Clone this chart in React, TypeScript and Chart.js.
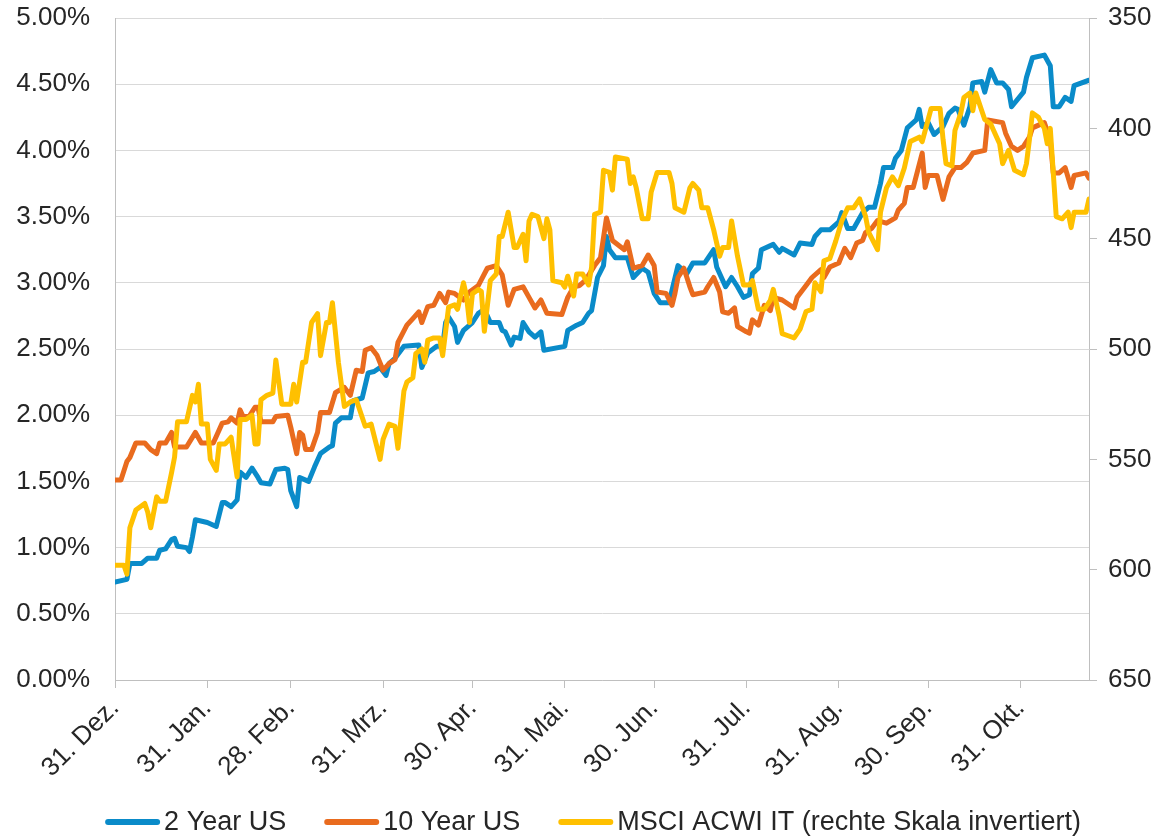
import { useEffect, useRef } from 'react';
import { Chart, registerables } from 'chart.js';

Chart.register(...registerables);

// X axis: days since 31 Dec; ticks at month ends
const tickDays = [0, 31, 59, 90, 120, 151, 181, 212, 243, 273, 304];
const tickLabels = ['31. Dez.', '31. Jan.', '28. Feb.', '31. Mrz.', '30. Apr.', '31. Mai.', '30. Jun.', '31. Jul.', '31. Aug.', '30. Sep.', '31. Okt.'];
const lastDay = 327;

// 2 Year US yield (%)
const days2y = [0,4,5,9,11,14,15,17,19,20,21,24,25,26,27,31,34,36,37,39,41,42,44,46,48,49,52,54,57,58,59,61,62,65,67,69,72,73,74,76,79,80,83,85,87,89,91,92,94,97,102,103,105,108,110,111,112,114,115,117,120,122,124,126,129,130,131,133,134,136,137,139,141,143,144,151,152,155,157,159,160,162,164,165,166,168,172,174,177,179,181,183,186,189,192,194,198,201,202,205,207,209,211,213,214,216,217,221,223,224,228,230,234,235,237,240,243,244,246,248,251,253,255,257,258,261,262,264,266,269,270,271,273,275,278,280,282,283,285,287,288,291,292,294,296,298,300,301,305,306,308,312,314,315,317,319,321,322,327];
const yield2y = [0.74,0.76,0.88,0.88,0.92,0.92,0.98,0.99,1.06,1.07,1.01,1.00,0.97,1.08,1.21,1.19,1.16,1.34,1.34,1.31,1.36,1.57,1.53,1.60,1.53,1.49,1.48,1.59,1.60,1.59,1.43,1.31,1.53,1.50,1.61,1.71,1.76,1.77,1.94,1.98,1.98,2.11,2.13,2.32,2.33,2.36,2.30,2.39,2.43,2.52,2.53,2.36,2.47,2.52,2.52,2.70,2.74,2.67,2.55,2.64,2.70,2.77,2.80,2.70,2.70,2.64,2.63,2.53,2.59,2.58,2.70,2.63,2.59,2.63,2.49,2.52,2.64,2.68,2.70,2.77,2.79,3.04,3.13,3.35,3.25,3.19,3.19,3.04,3.11,3.08,2.92,2.85,2.85,3.13,3.07,3.15,3.15,3.25,3.12,2.97,3.04,2.97,2.89,2.91,3.07,3.11,3.25,3.29,3.23,3.26,3.21,3.30,3.29,3.35,3.40,3.40,3.46,3.53,3.41,3.41,3.53,3.57,3.57,3.75,3.87,3.87,3.94,4.00,4.17,4.23,4.31,4.18,4.21,4.12,4.18,4.28,4.32,4.31,4.19,4.33,4.51,4.52,4.44,4.61,4.51,4.51,4.46,4.33,4.44,4.55,4.70,4.72,4.64,4.33,4.33,4.40,4.37,4.49,4.53];

// 10 Year US yield (%)
const days10y = [0,2,4,5,7,10,12,14,15,17,19,20,24,27,29,33,36,38,39,41,42,43,45,47,48,49,53,54,58,59,61,62,63,64,66,68,69,72,74,77,79,81,83,84,86,88,90,92,94,95,98,100,102,103,105,107,109,111,112,114,117,119,122,125,128,130,132,134,137,139,141,143,145,150,152,154,156,158,161,163,165,167,171,172,174,177,179,181,182,185,187,188,189,191,193,194,198,199,201,203,204,206,208,209,212,213,214,216,218,220,221,224,228,229,232,234,237,238,240,243,245,247,249,251,252,254,256,259,262,263,265,266,268,271,272,273,276,278,280,282,284,286,288,292,293,298,299,301,303,305,307,308,312,314,315,317,319,321,322,326,327];
const yield10y = [1.51,1.51,1.65,1.68,1.79,1.79,1.74,1.71,1.79,1.79,1.87,1.76,1.76,1.87,1.79,1.79,1.94,1.95,1.98,1.94,2.04,1.99,1.99,2.06,2.06,1.95,1.95,1.99,2.00,1.91,1.71,1.87,1.85,1.74,1.74,1.87,2.02,2.02,2.17,2.21,2.15,2.34,2.33,2.49,2.51,2.45,2.34,2.39,2.42,2.55,2.68,2.73,2.78,2.70,2.82,2.83,2.92,2.85,2.93,2.92,2.87,2.93,2.98,3.11,3.13,3.06,2.83,2.95,2.97,2.89,2.81,2.87,2.77,2.76,2.89,2.97,2.98,3.02,3.13,3.19,3.49,3.32,3.25,3.31,3.11,3.13,3.21,3.13,2.93,2.92,2.83,2.92,3.04,3.11,2.97,2.91,2.93,2.97,3.04,2.93,2.78,2.77,2.81,2.67,2.63,2.62,2.72,2.68,2.83,2.79,2.89,2.87,2.81,2.89,2.98,3.04,3.10,3.04,3.12,3.15,3.26,3.19,3.30,3.32,3.38,3.41,3.47,3.45,3.49,3.55,3.60,3.72,3.72,3.98,3.72,3.81,3.81,3.63,3.80,3.87,3.87,3.91,3.98,4.00,4.23,4.21,4.13,4.03,4.00,4.03,4.10,4.17,4.21,4.08,3.83,3.83,3.87,3.72,3.81,3.83,3.79];

// MSCI ACWI IT index (right axis, inverted)
const daysMsci = [0,3,4,5,7,10,11,12,14,15,17,19,20,21,24,26,27,28,29,31,32,34,35,37,39,41,42,44,46,47,48,49,51,53,54,56,59,60,61,63,64,66,68,69,71,72,73,75,77,79,81,84,86,89,90,92,94,95,97,98,100,101,103,104,105,107,109,110,112,114,115,117,118,119,120,122,123,124,126,128,129,130,132,134,135,137,138,139,140,142,144,145,146,147,150,151,152,154,155,157,159,160,161,163,164,166,167,168,172,173,174,175,177,179,180,182,186,187,188,191,193,194,196,197,199,201,203,204,206,207,209,211,213,214,216,218,220,221,223,224,226,228,230,232,234,235,237,238,240,242,244,246,248,250,252,253,256,257,259,261,263,265,267,270,271,273,274,277,278,279,281,282,284,285,287,288,289,291,292,294,296,297,298,300,302,305,306,307,308,310,312,313,314,315,316,318,320,321,322,326,327];
const msciIt = [598,598,602,581,573,570,574,581,567,569,569,556,549,533,533,521,524,516,534,534,550,555,543,543,540,558,532,532,530,543,543,523,521,520,505,525,525,516,524,506,506,488,484,503,488,488,479,506,526,524,523,535,534,550,541,534,535,545,519,515,513,502,500,506,496,495,495,503,481,480,482,470,476,488,475,473,474,492,469,466,449,449,438,454,454,448,460,442,439,440,450,441,446,469,470,472,467,476,466,466,471,463,439,438,419,420,428,413,414,425,422,427,441,441,429,420,420,425,436,438,427,425,428,436,436,446,458,454,454,442,458,471,471,469,482,482,478,473,485,493,494,495,491,483,482,470,474,460,459,451,442,436,436,432,440,447,455,438,427,422,426,418,406,404,406,396,391,391,405,416,417,401,393,386,384,392,384,392,396,398,404,407,416,410,419,421,416,405,393,395,400,407,400,420,440,441,438,445,438,438,432];

const BLUE = '#0A8BC9';
const ORANGE = '#E96B1E';
const YELLOW = '#FFC000';
const GRID = '#D9D9D9';
const AXIS = '#BFBFBF';
const TEXT = '#262626';
const FONT_FAMILY = '"Liberation Sans", Arial, sans-serif';
const FONT_SIZE = 26;
const LEGEND_FONT_SIZE = 27;

const legendPlugin = {
  id: 'customLegend',
  afterDraw(chart: any) {
    const ctx = chart.ctx as CanvasRenderingContext2D;
    ctx.save();
    ctx.font = `${LEGEND_FONT_SIZE}px ${FONT_FAMILY}`;
    const items = chart.data.datasets.map((ds: any) => ({ label: ds.label, color: ds.borderColor }));
    const lineW = 55;
    const gapText = 4;
    const gapItem = 38;
    const widths = items.map((it: any) => lineW + gapText + ctx.measureText(it.label).width);
    const total = widths.reduce((a: number, b: number) => a + b, 0) + gapItem * (items.length - 1);
    let x = chart.width / 2 + 13 - total / 2;
    const y = 822;
    items.forEach((it: any, i: number) => {
      ctx.beginPath();
      ctx.strokeStyle = it.color;
      ctx.lineWidth = 6;
      ctx.lineCap = 'round';
      ctx.moveTo(x + 3, y);
      ctx.lineTo(x + lineW - 3, y);
      ctx.stroke();
      ctx.fillStyle = TEXT;
      ctx.textAlign = 'left';
      ctx.textBaseline = 'middle';
      ctx.fillText(it.label, x + lineW + gapText, y + 1);
      x += widths[i] + gapItem;
    });
    ctx.restore();
  },
};

export default function App() {
  const ref = useRef<HTMLCanvasElement>(null);

  useEffect(() => {
    document.body.style.margin = '0';
    const zip = (d: number[], v: number[]) => d.map((x, i) => ({ x, y: v[i] }));
    const font = { family: FONT_FAMILY, size: FONT_SIZE };
    const chart = new Chart(ref.current as HTMLCanvasElement, {
      type: 'line',
      data: {
        datasets: [
          { label: '2 Year US', data: zip(days2y, yield2y), borderColor: BLUE, backgroundColor: BLUE, yAxisID: 'y', order: 3 },
          { label: '10 Year US', data: zip(days10y, yield10y), borderColor: ORANGE, backgroundColor: ORANGE, yAxisID: 'y', order: 2 },
          { label: 'MSCI ACWI IT (rechte Skala invertiert)', data: zip(daysMsci, msciIt), borderColor: YELLOW, backgroundColor: YELLOW, yAxisID: 'y2', order: 1 },
        ],
      },
      options: {
        animation: false,
        responsive: false,
        maintainAspectRatio: false,
        elements: {
          point: { radius: 0, hoverRadius: 0 },
          line: { borderWidth: 5, tension: 0, borderJoinStyle: 'round', borderCapStyle: 'round' },
        },
        layout: { padding: { top: 18, bottom: 50, left: 0, right: 0 } },
        plugins: { legend: { display: false }, tooltip: { enabled: false } },
        scales: {
          x: {
            type: 'linear',
            min: 0,
            max: lastDay,
            afterBuildTicks: (s: any) => {
              s.ticks = tickDays.map((v) => ({ value: v }));
            },
            afterFit: (s: any) => {
              s.height = 106;
              s.paddingLeft = 0;
              s.paddingRight = 0;
            },
            ticks: {
              autoSkip: false,
              maxRotation: 45,
              minRotation: 45,
              padding: 5,
              color: TEXT,
              font,
              callback: (v: any) => {
                const i = tickDays.indexOf(Number(v));
                return i >= 0 ? tickLabels[i] : '';
              },
            },
            grid: { drawOnChartArea: false, drawTicks: true, tickLength: 8, color: AXIS },
            border: { color: AXIS },
          },
          y: {
            position: 'left',
            min: 0,
            max: 5,
            afterFit: (s: any) => {
              s.width = 115;
              s.paddingTop = 0;
              s.paddingBottom = 0;
            },
            ticks: {
              stepSize: 0.5,
              padding: 25,
              color: TEXT,
              font,
              callback: (v: any) => Number(v).toFixed(2) + '%',
            },
            grid: { color: GRID, drawTicks: false },
            border: { color: AXIS },
          },
          y2: {
            position: 'right',
            min: 350,
            max: 650,
            reverse: true,
            afterFit: (s: any) => {
              s.width = 71;
              s.paddingTop = 0;
              s.paddingBottom = 0;
            },
            ticks: { stepSize: 50, padding: 11, color: TEXT, font },
            grid: { drawOnChartArea: false, drawTicks: true, tickLength: 8, color: AXIS },
            border: { color: AXIS },
          },
        },
      },
      plugins: [legendPlugin],
    } as any);
    return () => chart.destroy();
  }, []);

  return (
    <div style={{ width: 1160, height: 836, background: '#ffffff' }}>
      <canvas ref={ref} width={1160} height={836} style={{ display: 'block', width: 1160, height: 836 }} />
    </div>
  );
}
